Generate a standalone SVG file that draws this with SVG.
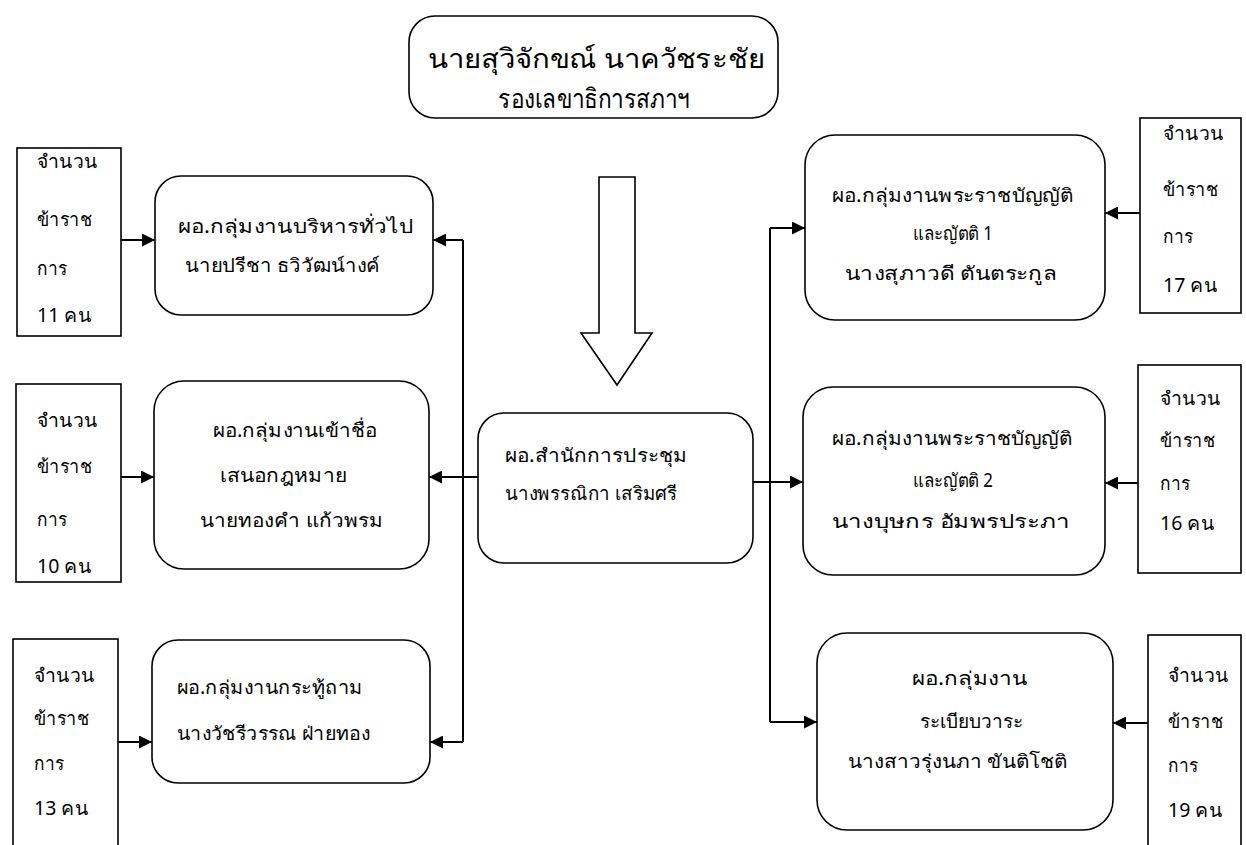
<svg xmlns="http://www.w3.org/2000/svg" width="1246" height="845" viewBox="0 0 1246 845">
<defs>
<style>
.box{fill:#fff;stroke:#000;stroke-width:1.6}
.cnt{fill:#fff;stroke:#000;stroke-width:1.6}
.t{font-family:"Noto Sans","DejaVu Sans",sans-serif;font-size:19px;fill:#000}
.tt{font-family:"Noto Sans","DejaVu Sans",sans-serif;font-size:27px;fill:#000}
.ln{fill:none;stroke:#000;stroke-width:2}
</style>
<marker id="ah" viewBox="0 0 10 10" refX="10" refY="5" markerUnits="userSpaceOnUse" markerWidth="16" markerHeight="13" orient="auto">
<path d="M0,0 L10,5 L0,10 z" fill="#000"/>
</marker>
</defs>
<rect width="1246" height="845" fill="#fff"/>

<g id="top">
<rect class="box" x="409" y="16" width="369" height="102" rx="26"/>
<text class="tt" x="428" y="68" textLength="337" lengthAdjust="spacingAndGlyphs">นายสุวิจักขณ์ นาควัชระชัย</text>
<text class="tt" x="498" y="108" textLength="192" lengthAdjust="spacingAndGlyphs">รองเลขาธิการสภาฯ</text>
</g>

<g id="bigarrow">
<polygon points="599,177 635,177 635,333 652,333 617,385 581,333 599,333" fill="#fff" stroke="#000" stroke-width="1.6"/>
</g>

<g id="center">
<rect class="box" x="478" y="413" width="275" height="150" rx="26"/>
<text class="t" x="505" y="462" textLength="182" lengthAdjust="spacingAndGlyphs">ผอ.สำนักการประชุม</text>
<text class="t" x="505" y="500" textLength="172" lengthAdjust="spacingAndGlyphs">นางพรรณิกา เสริมศรี</text>
</g>

<g id="L1">
<rect class="box" x="155" y="176" width="278" height="139" rx="26"/>
<text class="t" x="178" y="233" textLength="235" lengthAdjust="spacingAndGlyphs">ผอ.กลุ่มงานบริหารทั่วไป</text>
<text class="t" x="185" y="272" textLength="195" lengthAdjust="spacingAndGlyphs">นายปรีชา ธวิวัฒน์างค์</text>
</g>

<g id="L2">
<rect class="box" x="154" y="381" width="275" height="188" rx="30"/>
<text class="t" x="213" y="437" textLength="164" lengthAdjust="spacingAndGlyphs">ผอ.กลุ่มงานเข้าชื่อ</text>
<text class="t" x="220" y="482" textLength="127" lengthAdjust="spacingAndGlyphs">เสนอกฎหมาย</text>
<text class="t" x="200" y="527" textLength="183" lengthAdjust="spacingAndGlyphs">นายทองคำ แก้วพรม</text>
</g>

<g id="L3">
<rect class="box" x="152" y="640" width="278" height="143" rx="26"/>
<text class="t" x="177" y="694" textLength="186" lengthAdjust="spacingAndGlyphs">ผอ.กลุ่มงานกระทู้ถาม</text>
<text class="t" x="177" y="740" textLength="193" lengthAdjust="spacingAndGlyphs">นางวัชรีวรรณ ฝ่ายทอง</text>
</g>

<g id="R1">
<rect class="box" x="805" y="135" width="300" height="185" rx="30"/>
<text class="t" x="832" y="202" textLength="241" lengthAdjust="spacingAndGlyphs">ผอ.กลุ่มงานพระราชบัญญัติ</text>
<text class="t" x="913" y="240" textLength="80" lengthAdjust="spacingAndGlyphs">และญัตติ 1</text>
<text class="t" x="845" y="280" textLength="212" lengthAdjust="spacingAndGlyphs">นางสุภาวดี ตันตระกูล</text>
</g>

<g id="R2">
<rect class="box" x="803" y="387" width="302" height="188" rx="30"/>
<text class="t" x="832" y="445" textLength="240" lengthAdjust="spacingAndGlyphs">ผอ.กลุ่มงานพระราชบัญญัติ</text>
<text class="t" x="913" y="487" textLength="80" lengthAdjust="spacingAndGlyphs">และญัตติ 2</text>
<text class="t" x="832" y="528" textLength="238" lengthAdjust="spacingAndGlyphs">นางบุษกร อัมพรประภา</text>
</g>

<g id="R3">
<rect class="box" x="817" y="633" width="296" height="197" rx="30"/>
<text class="t" x="912" y="685" textLength="115" lengthAdjust="spacingAndGlyphs">ผอ.กลุ่มงาน</text>
<text class="t" x="920" y="728" textLength="103" lengthAdjust="spacingAndGlyphs">ระเบียบวาระ</text>
<text class="t" x="848" y="768" textLength="219" lengthAdjust="spacingAndGlyphs">นางสาวรุ่งนภา ขันติโชติ</text>
</g>

<g id="CL1">
<rect class="cnt" x="17" y="148" width="104" height="188"/>
<text class="t" x="37" y="168" textLength="60" lengthAdjust="spacingAndGlyphs">จำนวน</text>
<text class="t" x="37" y="226" textLength="55" lengthAdjust="spacingAndGlyphs">ข้าราช</text>
<text class="t" x="37" y="275" textLength="30" lengthAdjust="spacingAndGlyphs">การ</text>
<text class="t" x="37" y="322" textLength="54" lengthAdjust="spacingAndGlyphs">11 คน</text>
</g>

<g id="CL2">
<rect class="cnt" x="16" y="384" width="105" height="198"/>
<text class="t" x="37" y="427" textLength="60" lengthAdjust="spacingAndGlyphs">จำนวน</text>
<text class="t" x="37" y="473" textLength="55" lengthAdjust="spacingAndGlyphs">ข้าราช</text>
<text class="t" x="37" y="526" textLength="30" lengthAdjust="spacingAndGlyphs">การ</text>
<text class="t" x="37" y="573" textLength="54" lengthAdjust="spacingAndGlyphs">10 คน</text>
</g>

<g id="CL3">
<rect class="cnt" x="13" y="639" width="105" height="215"/>
<text class="t" x="34" y="682" textLength="60" lengthAdjust="spacingAndGlyphs">จำนวน</text>
<text class="t" x="34" y="725" textLength="55" lengthAdjust="spacingAndGlyphs">ข้าราช</text>
<text class="t" x="34" y="770" textLength="30" lengthAdjust="spacingAndGlyphs">การ</text>
<text class="t" x="34" y="815" textLength="54" lengthAdjust="spacingAndGlyphs">13 คน</text>
</g>

<g id="CR1">
<rect class="cnt" x="1140" y="118" width="101" height="195"/>
<text class="t" x="1163" y="140" textLength="60" lengthAdjust="spacingAndGlyphs">จำนวน</text>
<text class="t" x="1163" y="196" textLength="55" lengthAdjust="spacingAndGlyphs">ข้าราช</text>
<text class="t" x="1163" y="243" textLength="30" lengthAdjust="spacingAndGlyphs">การ</text>
<text class="t" x="1163" y="292" textLength="54" lengthAdjust="spacingAndGlyphs">17 คน</text>
</g>

<g id="CR2">
<rect class="cnt" x="1138" y="365" width="103" height="208"/>
<text class="t" x="1160" y="405" textLength="60" lengthAdjust="spacingAndGlyphs">จำนวน</text>
<text class="t" x="1160" y="447" textLength="55" lengthAdjust="spacingAndGlyphs">ข้าราช</text>
<text class="t" x="1160" y="490" textLength="30" lengthAdjust="spacingAndGlyphs">การ</text>
<text class="t" x="1160" y="530" textLength="54" lengthAdjust="spacingAndGlyphs">16 คน</text>
</g>

<g id="CR3">
<rect class="cnt" x="1148" y="635" width="93" height="220"/>
<text class="t" x="1168" y="682" textLength="60" lengthAdjust="spacingAndGlyphs">จำนวน</text>
<text class="t" x="1168" y="728" textLength="55" lengthAdjust="spacingAndGlyphs">ข้าราช</text>
<text class="t" x="1168" y="772" textLength="30" lengthAdjust="spacingAndGlyphs">การ</text>
<text class="t" x="1168" y="817" textLength="54" lengthAdjust="spacingAndGlyphs">19 คน</text>
</g>

<g id="connectors">
<line class="ln" x1="121" y1="240" x2="155" y2="240" marker-end="url(#ah)"/>
<line class="ln" x1="121" y1="477" x2="154" y2="477" marker-end="url(#ah)"/>
<line class="ln" x1="118" y1="742" x2="152" y2="742" marker-end="url(#ah)"/>
<line class="ln" x1="478" y1="477" x2="463" y2="477"/>
<line class="ln" x1="463" y1="240" x2="463" y2="742"/>
<line class="ln" x1="463" y1="240" x2="433" y2="240" marker-end="url(#ah)"/>
<line class="ln" x1="463" y1="477" x2="429" y2="477" marker-end="url(#ah)"/>
<line class="ln" x1="463" y1="742" x2="430" y2="742" marker-end="url(#ah)"/>
<line class="ln" x1="753" y1="482" x2="770" y2="482"/>
<line class="ln" x1="770" y1="228" x2="770" y2="722"/>
<line class="ln" x1="770" y1="228" x2="805" y2="228" marker-end="url(#ah)"/>
<line class="ln" x1="770" y1="482" x2="803" y2="482" marker-end="url(#ah)"/>
<line class="ln" x1="770" y1="722" x2="817" y2="722" marker-end="url(#ah)"/>
<line class="ln" x1="1140" y1="213" x2="1105" y2="213" marker-end="url(#ah)"/>
<line class="ln" x1="1138" y1="483" x2="1105" y2="483" marker-end="url(#ah)"/>
<line class="ln" x1="1148" y1="723" x2="1113" y2="723" marker-end="url(#ah)"/>
</g>
</svg>
